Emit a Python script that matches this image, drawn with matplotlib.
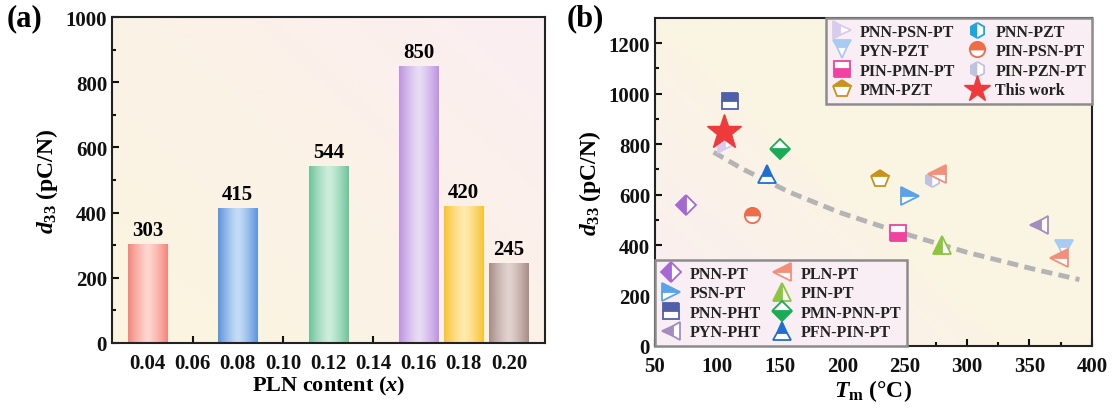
import numpy as np
import matplotlib
matplotlib.use('Agg')
import matplotlib.pyplot as plt
from matplotlib.colors import LinearSegmentedColormap

plt.rcParams['font.family'] = 'Liberation Serif'
plt.rcParams['font.weight'] = 'bold'
plt.rcParams['axes.labelweight'] = 'bold'
plt.rcParams['mathtext.fontset'] = 'custom'
plt.rcParams['mathtext.rm'] = 'Liberation Serif:bold'
plt.rcParams['mathtext.it'] = 'Liberation Serif:bold:italic'
plt.rcParams['mathtext.bf'] = 'Liberation Serif:bold'

# (a) d33 vs PLN content
pln_x = [0.04, 0.08, 0.12, 0.16, 0.18, 0.20]
pln_d33 = [303, 415, 544, 850, 420, 245]
bar_edge = ['#F4857A', '#5C93DC', '#6CC49B', '#BD92E2', '#F8C232', '#A88C86']
bar_mid = ['#FFD6D0', '#C4DDF7', '#CDEEDC', '#E8DCF4', '#FFEBAE', '#E2D3CF']
xticks_a = [0.04, 0.06, 0.08, 0.10, 0.12, 0.14, 0.16, 0.18, 0.20]

# (b) d33 vs Tm, literature
series = {
    'PNN-PSN-PT':  ([108], [800]),
    'PNN-PZT':     ([], []),
    'PYN-PZT':     ([378], [385]),
    'PIN-PSN-PT':  ([128], [520]),
    'PIN-PMN-PT':  ([245], [447]),
    'PIN-PZN-PT':  ([272], [660]),
    'PMN-PZT':     ([230], [662]),
    'PNN-PT':      ([75], [560]),
    'PLN-PT':      ([276, 374], [680, 350]),
    'PSN-PT':      ([254], [595]),
    'PIN-PT':      ([280], [400]),
    'PNN-PHT':     ([110], [970]),
    'PMN-PNN-PT':  ([150], [780]),
    'PYN-PHT':     ([358], [480]),
    'PFN-PIN-PT':  ([140], [680]),
}
this_work = ([105], [850])
fit_tm = [97, 120, 158, 198, 240, 273, 300, 353, 390]
fit_d33 = [768, 702, 609, 529, 460, 411, 371, 305, 263]

styles = {
    'PNN-PSN-PT': ('>', '#D9CAEE', 'left'),
    'PNN-PZT':    ('h', '#1BA6DC', 'left'),
    'PYN-PZT':    ('v', '#A8CBF3', 'top'),
    'PIN-PSN-PT': ('o', '#EE6C47', 'top'),
    'PIN-PMN-PT': ('s', '#F0429E', 'bottom'),
    'PIN-PZN-PT': ('h', '#BFC3DF', 'left'),
    'PMN-PZT':    ('p', '#C8931C', 'top'),
    'PNN-PT':     ('D', '#A569D4', 'left'),
    'PLN-PT':     ('<', '#F0907A', 'top'),
    'PSN-PT':     ('>', '#5AA2EA', 'top'),
    'PIN-PT':     ('^', '#8CC63F', 'left'),
    'PNN-PHT':    ('s', '#5060A8', 'top'),
    'PMN-PNN-PT': ('D', '#1BAA55', 'bottom'),
    'PYN-PHT':    ('<', '#A28CC0', 'left'),
    'PFN-PIN-PT': ('^', '#1E6FD0', 'top'),
}


def background(ax, c1, c2, c3):
    n = 200
    gx, gy = np.meshgrid(np.linspace(0, 1, n), np.linspace(0, 1, n))
    t = np.clip(0.55 * gx + 0.45 * (1 - gy), 0, 1)
    cmap = LinearSegmentedColormap.from_list('bg', [c1, c2, c3])
    ax.imshow(t, cmap=cmap, extent=[0, 1, 0, 1], transform=ax.transAxes,
              aspect='auto', zorder=0, origin='upper')


fig = plt.figure(figsize=(11.15, 4.10), dpi=100)
ax1 = fig.add_axes([0.1004, 0.161, 0.3885, 0.795])
ax2 = fig.add_axes([0.5874, 0.1537, 0.3919, 0.80])

# ---- (a) ----
background(ax1, '#FAF5E0', '#FBF2E6', '#FBEEF3')
width = 0.0173
bars = ax1.bar(pln_x, pln_d33, width=width, color='none', zorder=2)
grad = np.abs(np.linspace(-1, 1, 100)) ** 1.3
for b, ce, cm in zip(bars, bar_edge, bar_mid):
    cmap = LinearSegmentedColormap.from_list('g', [cm, ce])
    x0 = b.get_x()
    im = ax1.imshow(grad[None, :], cmap=cmap, aspect='auto', zorder=2,
                    extent=[x0, x0 + b.get_width(), 0, b.get_height()])
    im.set_clip_path(b)
for x, v in zip(pln_x, pln_d33):
    ax1.text(x, v + 12, str(v), ha='center', va='bottom', fontsize=15,
             fontweight='bold')
ax1.set_xlim(0.0243, 0.2160)
ax1.set_ylim(0, 1000)
ax1.set_xticks(xticks_a)
ax1.set_xticklabels(['%.2f' % t for t in xticks_a])
ax1.set_yticks(np.arange(0, 1001, 200))
ax1.set_yticks(np.arange(100, 1000, 200), minor=True)
ax1.set_xlabel('PLN content ($x$)', fontsize=16, labelpad=1)
ax1.set_ylabel('$d_{33}$ (pC/N)', fontsize=17, labelpad=4)

# ---- (b) ----
background(ax2, '#FBEDF3', '#FAF5E2', '#FAF5E2')
ax2.plot(fit_tm, fit_d33, color='#B4B4B4', lw=3.5, dashes=(2.3, 1.3),
         zorder=2)
handles = {}
for name, (xs, ys) in series.items():
    m, c, fs = styles[name]
    ms = 13 if m in '<>^vp' else 11
    if m == 'D':
        ms = 10
    h, = ax2.plot(xs, ys, ls='none', marker=m, ms=ms, color=c,
                  markerfacecolor=c, markerfacecoloralt='white',
                  markeredgecolor=c, markeredgewidth=1.3, fillstyle=fs,
                  label=name, zorder=3)
    handles[name] = h
hs, = ax2.plot(*this_work, ls='none', marker='*', ms=26, color='#EE3A3A',
               label='This work', zorder=4)
handles['This work'] = hs
ax2.set_xlim(50, 400)
ax2.set_ylim(0, 1300)
ax2.set_xticks(np.arange(50, 401, 50))
ax2.set_xticks(np.arange(75, 400, 50), minor=True)
ax2.set_yticks(np.arange(0, 1201, 200))
ax2.set_yticks(np.arange(100, 1300, 200), minor=True)
ax2.set_xlabel('$T_\\mathrm{m}$ (\u00b0C)', fontsize=17, labelpad=1)
ax2.set_ylabel('$d_{33}$ (pC/N)', fontsize=17, labelpad=4)

top_names = ['PNN-PSN-PT', 'PYN-PZT', 'PIN-PMN-PT', 'PMN-PZT',
             'PNN-PZT', 'PIN-PSN-PT', 'PIN-PZN-PT', 'This work']
bot_names = ['PNN-PT', 'PSN-PT', 'PNN-PHT', 'PYN-PHT',
             'PLN-PT', 'PIN-PT', 'PMN-PNN-PT', 'PFN-PIN-PT']
leg_kw = dict(ncol=2, frameon=True, fancybox=False, shadow=False,
              handletextpad=0.5, columnspacing=0.7, borderpad=0.35,
              labelspacing=0.22, markerscale=1.0, handlelength=1.3,
              borderaxespad=0.0, prop={'weight': 'bold', 'size': 11.5})
leg1 = ax2.legend([handles[n] for n in top_names], top_names,
                  loc='upper right', bbox_to_anchor=(1.0, 1.0), **leg_kw)
ax2.add_artist(leg1)
leg2 = ax2.legend([handles[n] for n in bot_names], bot_names,
                  loc='lower left', bbox_to_anchor=(0.0, 0.0), **leg_kw)
for lg in (leg1, leg2):
    fr = lg.get_frame()
    fr.set_edgecolor('#8C8C8C')
    fr.set_facecolor('#F9EEF4')
    fr.set_linewidth(1.8)
    fr.set_alpha(1)
    for t in lg.get_texts():
        t.set_color('#222222')
for lh in leg1.legend_handles:
    if lh.get_marker() == '*':
        lh.set_markersize(20)

for ax in (ax1, ax2):
    for s in ax.spines.values():
        s.set_linewidth(1.5)
        s.set_color('#222222')
    ax.tick_params(which='both', direction='in', top=False, right=False,
                   labelsize=15, width=1.5, colors='#111111')
    ax.tick_params(which='major', length=5)
    ax.tick_params(which='minor', length=3)
    ax.tick_params(axis='x', which='major', pad=7)
    for lab in ax.get_xticklabels() + ax.get_yticklabels():
        lab.set_fontweight('bold')

fig.text(0.006, 0.99, '(a)', fontsize=22, fontweight='bold', va='top')
fig.text(0.508, 0.99, '(b)', fontsize=22, fontweight='bold', va='top')

fig.savefig('out.png', dpi=100)
